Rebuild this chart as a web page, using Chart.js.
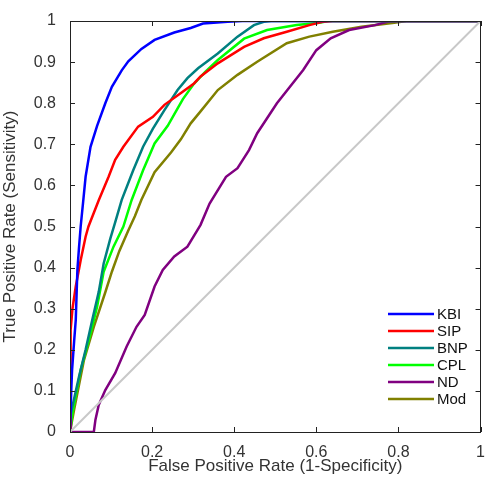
<!DOCTYPE html>
<html>
<head>
<meta charset="utf-8">
<script src="https://cdn.jsdelivr.net/npm/chart.js@4"></script>
<style>
  body { margin: 0; background: #fff; }
  #roc { display: block; }
</style>
</head>
<body>
<canvas id="roc" width="488" height="480"></canvas>
<script>
// Axis ticks
const xTicks = [0, 0.2, 0.4, 0.6, 0.8, 1];
const yTicks = [0, 0.1, 0.2, 0.3, 0.4, 0.5, 0.6, 0.7, 0.8, 0.9, 1];

// Series names and colours (legend order)
const seriesNames = ['KBI', 'SIP', 'BNP', 'CPL', 'ND', 'Mod'];
const seriesColors = ['#0000ff', '#ff0000', '#008080', '#00ff00', '#800080', '#808000'];

// ROC points (FPR, TPR)
const kbiFpr = [0, 0.003, 0.005, 0.01, 0.014, 0.018, 0.022, 0.026, 0.032, 0.038, 0.05, 0.066, 0.086, 0.102, 0.126, 0.142, 0.174, 0.206, 0.254, 0.294, 0.324, 0.384, 0.42, 1];
const kbiTpr = [0, 0.1, 0.15, 0.22, 0.272, 0.394, 0.45, 0.5, 0.56, 0.621, 0.694, 0.745, 0.8, 0.84, 0.88, 0.902, 0.932, 0.954, 0.972, 0.983, 0.994, 0.998, 1, 1];

const sipFpr = [0, 0.001, 0.002, 0.006, 0.014, 0.026, 0.038, 0.045, 0.07, 0.094, 0.11, 0.13, 0.166, 0.202, 0.23, 0.266, 0.302, 0.318, 0.36, 0.424, 0.472, 0.528, 0.583, 0.615, 0.64, 1];
const sipTpr = [0, 0.15, 0.248, 0.3, 0.354, 0.418, 0.475, 0.5, 0.564, 0.621, 0.662, 0.694, 0.743, 0.767, 0.796, 0.822, 0.848, 0.865, 0.897, 0.937, 0.958, 0.974, 0.99, 0.998, 1, 1];

const bnpFpr = [0, 0.002, 0.022, 0.038, 0.054, 0.07, 0.082, 0.098, 0.11, 0.126, 0.154, 0.178, 0.202, 0.23, 0.262, 0.286, 0.312, 0.36, 0.408, 0.448, 0.472, 0.49, 1];
const bnpTpr = [0, 0.045, 0.135, 0.2, 0.272, 0.341, 0.41, 0.47, 0.51, 0.565, 0.637, 0.694, 0.738, 0.783, 0.832, 0.861, 0.885, 0.921, 0.962, 0.99, 0.998, 1, 1];

const cplFpr = [0, 0.006, 0.026, 0.046, 0.066, 0.082, 0.106, 0.13, 0.15, 0.178, 0.206, 0.238, 0.258, 0.275, 0.3, 0.33, 0.36, 0.424, 0.48, 0.552, 0.607, 0.63, 1];
const cplTpr = [0, 0.046, 0.151, 0.224, 0.305, 0.39, 0.451, 0.5, 0.564, 0.637, 0.702, 0.745, 0.78, 0.81, 0.845, 0.877, 0.905, 0.957, 0.978, 0.99, 0.996, 1, 1];

const ndFpr = [0, 0.058, 0.062, 0.07, 0.086, 0.11, 0.138, 0.162, 0.182, 0.206, 0.226, 0.254, 0.286, 0.318, 0.34, 0.38, 0.408, 0.436, 0.456, 0.504, 0.568, 0.6, 0.635, 0.68, 0.743, 0.78, 1];
const ndTpr = [0, 0, 0.03, 0.066, 0.102, 0.143, 0.208, 0.256, 0.285, 0.354, 0.394, 0.427, 0.451, 0.504, 0.556, 0.621, 0.642, 0.686, 0.727, 0.8, 0.881, 0.929, 0.958, 0.978, 0.99, 1, 1];

const modFpr = [0, 0.01, 0.034, 0.058, 0.086, 0.102, 0.12, 0.142, 0.158, 0.174, 0.206, 0.246, 0.27, 0.294, 0.318, 0.36, 0.408, 0.456, 0.528, 0.583, 0.64, 0.71, 0.79, 0.82, 1];
const modTpr = [0, 0.054, 0.175, 0.256, 0.34, 0.39, 0.44, 0.49, 0.525, 0.565, 0.632, 0.68, 0.712, 0.751, 0.78, 0.832, 0.869, 0.901, 0.946, 0.962, 0.974, 0.986, 0.996, 1, 1];

const seriesFpr = [kbiFpr, sipFpr, bnpFpr, cplFpr, ndFpr, modFpr];
const seriesTpr = [kbiTpr, sipTpr, bnpTpr, cplTpr, ndTpr, modTpr];

const toPoints = (xs, ys) => xs.map((x, i) => ({ x: x, y: ys[i] }));

const datasets = [{
  label: 'chance',
  data: toPoints([0, 1], [0, 1]),
  borderColor: '#c8c8c8',
  borderWidth: 2,
  pointRadius: 0,
  showLine: true
}];
seriesNames.forEach((name, i) => {
  datasets.push({
    label: name,
    data: toPoints(seriesFpr[i], seriesTpr[i]),
    borderColor: seriesColors[i],
    borderWidth: 2.5,
    pointRadius: 0,
    showLine: true,
    tension: 0
  });
});

// box round the plot, inward ticks and legend inside the plot
const frame = {
  id: 'frame',
  afterDatasetsDraw(chart) {
    const { ctx, chartArea: a, scales } = chart;
    ctx.save();
    ctx.strokeStyle = '#222';
    ctx.lineWidth = 1;
    ctx.beginPath();
    xTicks.forEach(v => {
      const px = Math.round(scales.x.getPixelForValue(v)) + 0.5;
      ctx.moveTo(px, a.bottom); ctx.lineTo(px, a.bottom - 5);
      ctx.moveTo(px, a.top); ctx.lineTo(px, a.top + 5);
    });
    yTicks.forEach(v => {
      const py = Math.round(scales.y.getPixelForValue(v)) + 0.5;
      ctx.moveTo(a.left, py); ctx.lineTo(a.left + 5, py);
      ctx.moveTo(a.right, py); ctx.lineTo(a.right - 5, py);
    });
    ctx.stroke();
    ctx.strokeRect(Math.round(a.left) + 0.5, Math.round(a.top) + 0.5,
      Math.round(a.right - a.left) - 1, Math.round(a.bottom - a.top));

    // legend
    ctx.font = '15px "Liberation Sans", Arial, sans-serif';
    ctx.textBaseline = 'middle';
    ctx.fillStyle = '#111';
    seriesNames.forEach((name, i) => {
      const y = 314 + i * 17;
      ctx.strokeStyle = seriesColors[i];
      ctx.lineWidth = 2.5;
      ctx.beginPath();
      ctx.moveTo(388, y); ctx.lineTo(434, y);
      ctx.stroke();
      ctx.fillText(name, 437, y + 1);
    });
    ctx.restore();
  }
};

const tickFont = { family: '"Liberation Sans", Arial, sans-serif', size: 16 };
const titleFont = { family: '"Liberation Sans", Arial, sans-serif', size: 17 };

new Chart(document.getElementById('roc'), {
  type: 'scatter',
  data: { datasets: datasets },
  plugins: [frame],
  options: {
    responsive: false,
    devicePixelRatio: 1,
    animation: false,
    layout: { padding: { top: 21, right: 1, left: 0, bottom: 0 } },
    plugins: { legend: { display: false }, tooltip: { enabled: false } },
    scales: {
      x: {
        type: 'linear', min: 0, max: 1,
        afterBuildTicks: s => { s.ticks = xTicks.map(v => ({ value: v })); },
        afterFit: s => { s.height = 48; },
        grid: { display: false },
        border: { display: false },
        ticks: { font: tickFont, color: '#333', padding: 3, maxRotation: 0,
          callback: v => String(v) },
        title: { display: true, text: 'False Positive Rate (1-Specificity)',
          font: titleFont, color: '#333', padding: { top: 0, bottom: 3 } }
      },
      y: {
        type: 'linear', min: 0, max: 1,
        afterBuildTicks: s => { s.ticks = yTicks.map(v => ({ value: v })); },
        afterFit: s => { s.width = 70; },
        grid: { display: false },
        border: { display: false },
        ticks: { font: tickFont, color: '#333', padding: 6,
          callback: v => String(v) },
        title: { display: true, text: 'True Positive Rate (Sensitivity)',
          font: titleFont, color: '#333', padding: { top: 0, bottom: 0 } }
      }
    }
  }
});
</script>
</body>
</html>
